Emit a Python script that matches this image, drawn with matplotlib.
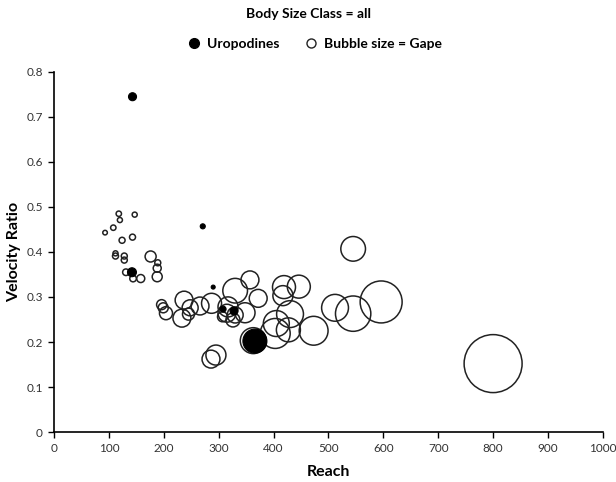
import numpy as np
import matplotlib
matplotlib.use("Agg")
import matplotlib.pyplot as plt
from matplotlib.lines import Line2D

plt.rcParams['font.family'] = ['Lato', 'DejaVu Sans']

# open bubbles: reach, velocity ratio, gape
reach = [118, 147, 120, 108, 93, 124, 143, 112, 112, 128, 128, 176, 189, 188, 188,
         131, 144, 158,
         196, 199, 204, 233, 237, 248, 245, 266, 287, 295, 286, 307, 317, 330, 326,
         315, 348, 330, 357, 372, 419, 446, 417, 430, 405, 403, 427, 473, 512, 545,
         596, 545, 800, 363]
vel_ratio = [0.485, 0.483, 0.471, 0.454, 0.443, 0.426, 0.433, 0.391, 0.397, 0.391,
             0.382, 0.390, 0.376, 0.364, 0.345, 0.355, 0.341, 0.341,
             0.283, 0.276, 0.264, 0.253, 0.293, 0.276, 0.262, 0.280, 0.286, 0.171,
             0.162, 0.256, 0.278, 0.260, 0.249, 0.264, 0.265, 0.314, 0.338, 0.297,
             0.322, 0.323, 0.303, 0.262, 0.241, 0.219, 0.227, 0.225, 0.276, 0.263,
             0.289, 0.407, 0.152, 0.203]
gape = [1.8, 1.6, 1.6, 1.8, 1.3, 2.25, 2.25, 2.25, 1.6, 2.25, 2.25, 7.6, 2.25, 4, 6.25,
        2.7, 2.7, 4,
        6.25, 6.25, 10.6, 20, 20, 16, 9, 20, 25, 25, 20, 6.25, 25, 16, 12.25,
        20, 25, 38, 20, 20, 33, 33, 25, 45, 42, 56, 36, 52, 45, 78,
        110, 38, 210, 42]

# uropodines (filled)
uro_reach = [143, 142, 271, 290, 308, 328, 366]
uro_ratio = [0.745, 0.355, 0.457, 0.322, 0.273, 0.269, 0.202]
uro_gape = [4, 5, 1.6, 1, 2.25, 4, 36]

size_scale = 8.3

fig = plt.figure(figsize=(6.16, 4.82), dpi=100)
ax = fig.add_axes([0.0877, 0.1037, 0.891, 0.747])

ax.scatter(reach, vel_ratio, s=np.array(gape) * size_scale, facecolors='none',
           edgecolors='#222222', linewidths=1.1, zorder=2)
ax.scatter(uro_reach, uro_ratio, s=np.array(uro_gape) * size_scale, c='black',
           edgecolors='black', linewidths=0.8, zorder=3)

ax.set_xlim(0, 1000)
ax.set_ylim(0, 0.8)
ax.set_xticks(np.arange(0, 1001, 100))
ax.set_yticks(np.arange(0, 0.81, 0.1))
ax.set_yticklabels(['0', '0.1', '0.2', '0.3', '0.4', '0.5', '0.6', '0.7', '0.8'])

for s in ['top', 'right']:
    ax.spines[s].set_visible(False)
for s in ['left', 'bottom']:
    ax.spines[s].set_linewidth(1.2)
ax.tick_params(direction='out', length=4, width=1, labelsize=8.5,
               labelcolor='#333333', pad=4)

ax.set_xlabel('Reach', fontsize=11.5, fontweight='bold', labelpad=8)
ax.set_ylabel('Velocity Ratio', fontsize=11.5, fontweight='bold', labelpad=4)

fig.text(0.5, 0.97, 'Body Size Class = all', ha='center', va='center',
         fontsize=10, fontweight='bold')

handles = [
    Line2D([], [], linestyle='none', marker='o', markersize=7,
           markerfacecolor='black', markeredgecolor='black'),
    Line2D([], [], linestyle='none', marker='o', markersize=6.5,
           markerfacecolor='none', markeredgecolor='#222222', markeredgewidth=1),
]
fig.legend(handles, ['Uropodines', 'Bubble size = Gape'], loc='center',
           bbox_to_anchor=(0.505, 0.908), ncol=2, frameon=False, handletextpad=0.0,
           columnspacing=1.2, prop={'size': 10, 'weight': 'bold'})

fig.savefig('out.png', dpi=100, facecolor='white')
